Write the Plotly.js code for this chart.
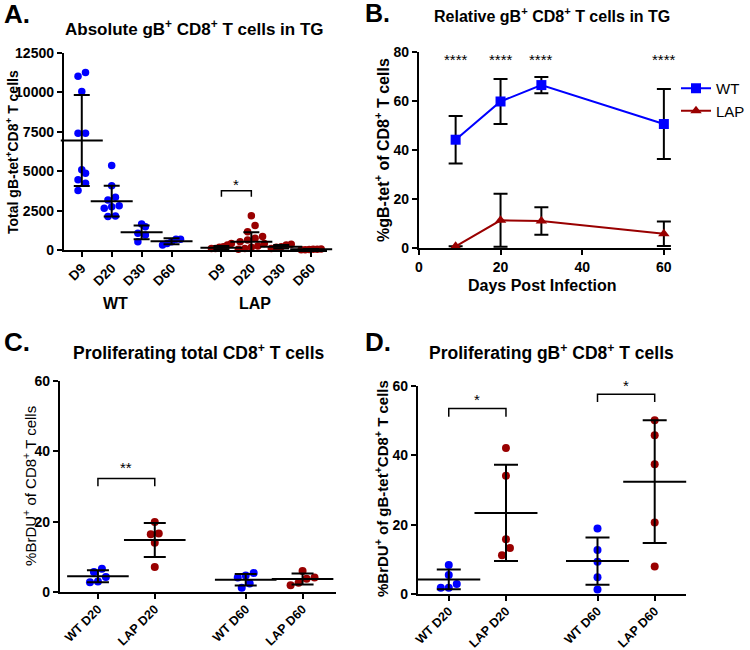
<!DOCTYPE html>
<html><head><meta charset="utf-8">
<script src="https://cdn.plot.ly/plotly-3.0.1.min.js"></script>
<style>html,body{margin:0;padding:0;background:#fff}#chart{width:750px;height:650px}</style>
</head><body><div id="chart"></div>
<script>
// ---------------- DATA ----------------
// Panel A: absolute gB+ CD8+ T cells in TG
const A_TICKS = ['D9','D20','D30','D60','D9','D20','D30','D60'];
const A_GROUPS = ['WT','LAP'];
const A_WT_D9  = [11020, 11270, 10065, 7415, 7415, 4870, 5085, 4450, 4240, 3770];
const A_WT_D20 = [5360, 4070, 3350, 3180, 2800, 2750, 2650, 2120, 2160];
const A_WT_D30 = [1650, 1480, 1060, 950, 530];
const A_WT_D60 = [680, 680, 530, 420, 320];
const A_LAP_D9  = [420, 320, 100, 210, 170, 100];
const A_LAP_D20 = [2180, 1550, 1165, 850, 740, 640, 530, 420, 250, 170, 100, 40];
const A_LAP_D30 = [360, 320, 210, 100, 170];
const A_LAP_D60 = [50, 30, 20, 60, 10, 40];
const A_WT_MEAN  = [6950, 3100, 1120, 560];
const A_WT_SD    = [2890, 980, 440, 190];
const A_LAP_MEAN = [150, 530, 210, 40];
const A_LAP_SD   = [110, 590, 110, 30];

// Panel B: relative gB+ CD8+ T cells in TG
const B_DAYS = [9, 20, 30, 60];
const B_WT_MEAN  = [44.2, 59.8, 66.5, 50.6];
const B_WT_SD    = [9.7, 9.2, 3.3, 14.3];
const B_LAP_MEAN = [0.7, 11.3, 11.0, 5.8];
const B_LAP_SD   = [0, 10.8, 5.6, 5.0];
const B_SIG = ['****', '****', '****', '****'];

// Panels C & D
const CD_TICKS = ['WT D20', 'LAP D20', 'WT D60', 'LAP D60'];
const C_WT_D20  = [4.3, 6.6, 5.7, 2.8, 3.0];
const C_LAP_D20 = [19.9, 16.4, 16.6, 14.0, 7.1];
const C_WT_D60  = [4.1, 5.4, 4.7, 2.4, 1.2];
const C_LAP_D60 = [3.8, 6.0, 4.1, 1.9, 2.6];
const C_MEAN = [4.5, 14.8, 3.5, 3.7];
const C_SD   = [1.7, 4.85, 1.65, 1.55];

const D_WT_D20  = [8.4, 5.5, 2.9, 1.8, 1.8];
const D_LAP_D20 = [42.1, 34.1, 15.8, 13.3, 11.2];
const D_WT_D60  = [18.9, 12.7, 9.3, 4.8, 1.3];
const D_LAP_D60 = [50.1, 45.8, 37.4, 20.6, 7.9];
const D_MEAN = [4.2, 23.4, 9.5, 32.4];
const D_SD   = [2.85, 13.9, 6.8, 17.7];

// ---------------- STYLE / LAYOUT ----------------
const FONT = 'Liberation Sans, Arial, Helvetica, sans-serif';
const BLUE = '#0000ff', RED = '#990000', BLACK = '#000';
const W = 750, H = 650;
const px = v => v / W, py = v => 1 - v / H;

// axis geometry (pixels)
const GEO = {
  A: {x0: 64, x1: 328, y0: 250, y1: 53, xr: [-0.6, 8.2], yr: [0, 12500]},
  B: {x0: 420, x1: 673, y0: 248, y1: 52, xr: [0, 61.8], yr: [0, 80]},
  C: {x0: 60, x1: 337, y0: 592, y1: 381, xr: [-0.67, 4.19], yr: [0, 60]},
  D: {x0: 419, x1: 688, y0: 594, y1: 386, xr: [-0.54, 4.15], yr: [0, 60]}
};
const A_POS = [0, 1, 2, 3, 4.667, 5.667, 6.667, 7.667];
const CD_POS = [0, 1, 2.6, 3.6];

function scale(g) {
  return {ux: (g.xr[1] - g.xr[0]) / (g.x1 - g.x0), uy: (g.yr[1] - g.yr[0]) / (g.y0 - g.y1)};
}
// simple column-scatter layout: points within one marker height share a row, centred
function swarm(vals, center, g, diam, maxHalf) {
  const s = scale(g);
  const idx = vals.map((v, i) => i).sort((a, b) => vals[a] - vals[b]);
  const xs = new Array(vals.length);
  const rows = []; let cur = [];
  idx.forEach(i => {
    if (cur.length && (vals[i] - vals[cur[0]]) / s.uy >= diam) { rows.push(cur); cur = []; }
    cur.push(i);
  });
  if (cur.length) rows.push(cur);
  rows.forEach(r => {
    const n = r.length;
    const step = n > 1 ? Math.min(diam, 2 * maxHalf / (n - 1)) : 0;
    r.forEach((i, k) => { xs[i] = center + (k - (n - 1) / 2) * step * s.ux; });
  });
  return xs;
}

const traces = [];
function dots(vals, center, g, color, xa, ya, diam, maxHalf) {
  traces.push({
    type: 'scatter', mode: 'markers', xaxis: xa, yaxis: ya, showlegend: false, cliponaxis: false,
    x: swarm(vals, center, g, diam, maxHalf), y: vals,
    marker: {color: color, size: diam, line: {width: 0}}, hoverinfo: 'y'
  });
}
function meanSd(pos, means, sds, xa, ya, lineW, capW) {
  traces.push({
    type: 'scatter', mode: 'markers', xaxis: xa, yaxis: ya, showlegend: false, cliponaxis: false,
    x: pos, y: means,
    marker: {symbol: 'line-ew', size: lineW, color: BLACK, line: {width: 2, color: BLACK}},
    error_y: {type: 'data', array: sds, visible: true, color: BLACK, thickness: 2, width: capW}
  });
}

// Panel A
const A_WT = [A_WT_D9, A_WT_D20, A_WT_D30, A_WT_D60];
const A_LAP = [A_LAP_D9, A_LAP_D20, A_LAP_D30, A_LAP_D60];
A_WT.forEach((v, i) => dots(v, A_POS[i], GEO.A, BLUE, 'x', 'y', 7.5, 9));
A_LAP.forEach((v, i) => dots(v, A_POS[i + 4], GEO.A, RED, 'x', 'y', 7.5, i === 1 ? 13 : 10));
meanSd(A_POS, A_WT_MEAN.concat(A_LAP_MEAN), A_WT_SD.concat(A_LAP_SD), 'x', 'y', 30, 8);

// Panel B
traces.push({
  type: 'scatter', mode: 'lines+markers', name: 'WT', xaxis: 'x2', yaxis: 'y2', cliponaxis: false,
  x: B_DAYS, y: B_WT_MEAN, line: {color: BLUE, width: 2},
  marker: {symbol: 'square', size: 10, color: BLUE},
  error_y: {type: 'data', array: B_WT_SD, color: BLACK, thickness: 2, width: 7}
});
traces.push({
  type: 'scatter', mode: 'lines+markers', name: 'LAP', xaxis: 'x2', yaxis: 'y2', cliponaxis: false,
  x: B_DAYS, y: B_LAP_MEAN, line: {color: RED, width: 2},
  marker: {symbol: 'triangle-up', size: 10, color: RED},
  error_y: {type: 'data', array: B_LAP_SD, color: BLACK, thickness: 2, width: 7}
});

// Panel C / D
const CD_COL = [BLUE, RED, BLUE, RED];
[C_WT_D20, C_LAP_D20, C_WT_D60, C_LAP_D60].forEach((v, i) => dots(v, CD_POS[i], GEO.C, CD_COL[i], 'x3', 'y3', 8, 14));
meanSd(CD_POS, C_MEAN, C_SD, 'x3', 'y3', 44, 11);
[D_WT_D20, D_LAP_D20, D_WT_D60, D_LAP_D60].forEach((v, i) => dots(v, CD_POS[i], GEO.D, CD_COL[i], 'x4', 'y4', 8, 14));
meanSd(CD_POS, D_MEAN, D_SD, 'x4', 'y4', 45, 12);

// ---------------- AXES ----------------
function ax(g, isX, extra) {
  return Object.assign({
    domain: isX ? [px(g.x0), px(g.x1)] : [py(g.y0), py(g.y1)],
    range: isX ? g.xr : g.yr,
    showline: true, linecolor: BLACK, linewidth: 2, mirror: false,
    ticks: 'outside', ticklen: 5, tickwidth: 2, tickcolor: BLACK,
    showgrid: false, zeroline: false, fixedrange: true,
    tickfont: {family: FONT, size: 14, color: BLACK, weight: 700}
  }, extra);
}
const catTicks = (pos, txt, size) => ({tickmode: 'array', tickvals: pos, ticktext: txt, tickangle: -45,
  ticklabelstandoff: -2, tickfont: {family: FONT, size: size, color: BLACK, weight: 700}});

const layout = {
  width: W, height: H, margin: {l: 0, r: 0, t: 0, b: 0},
  paper_bgcolor: '#fff', plot_bgcolor: '#fff',
  font: {family: FONT, color: BLACK},
  xaxis: ax(GEO.A, true, Object.assign({anchor: 'y'}, catTicks(A_POS, A_TICKS, 13.5))),
  yaxis: ax(GEO.A, false, {anchor: 'x', dtick: 2500, tickformat: 'd'}),
  xaxis2: ax(GEO.B, true, {anchor: 'y2', tickvals: [0, 20, 40, 60]}),
  yaxis2: ax(GEO.B, false, {anchor: 'x2', dtick: 20}),
  xaxis3: ax(GEO.C, true, Object.assign({anchor: 'y3'}, catTicks(CD_POS, CD_TICKS, 12.5))),
  yaxis3: ax(GEO.C, false, {anchor: 'x3', dtick: 20}),
  xaxis4: ax(GEO.D, true, Object.assign({anchor: 'y4'}, catTicks(CD_POS, CD_TICKS, 12.5))),
  yaxis4: ax(GEO.D, false, {anchor: 'x4', dtick: 20}),
  showlegend: true,
  legend: {x: px(678), y: py(72), xanchor: 'left', yanchor: 'top', bgcolor: 'rgba(0,0,0,0)',
    font: {family: FONT, size: 15, color: BLACK}, itemwidth: 30, tracegroupgap: 0},
  shapes: [], annotations: []
};

function txt(x, y, text, size, weight, extra) {
  layout.annotations.push(Object.assign({xref: 'paper', yref: 'paper', x: px(x), y: py(y), text: text,
    showarrow: false, xanchor: 'center', yanchor: 'middle',
    font: {family: FONT, size: size, color: BLACK, weight: weight}}, extra || {}));
}
// panel letters
txt(17, 14, 'A.', 26, 700); txt(379, 13, 'B.', 25, 700);
txt(17, 342, 'C.', 26, 700); txt(379, 342, 'D.', 26, 700);
// titles
txt(195, 28, 'Absolute gB<sup>+</sup> CD8<sup>+</sup> T cells in TG', 17, 700);
txt(553, 15, 'Relative gB<sup>+</sup> CD8<sup>+</sup> T cells in TG', 16, 700);
txt(200, 352, 'Proliferating total CD8<sup>+</sup> T cells', 17.5, 700);
txt(553, 352, 'Proliferating gB<sup>+</sup> CD8<sup>+</sup> T cells', 17.5, 700);
// axis titles
txt(12, 152, 'Total gB-tet<sup>+</sup>CD8<sup>+</sup> T cells', 14, 700, {textangle: -90});
txt(383, 150, '%gB-tet<sup>+</sup> of CD8<sup>+</sup> T cells', 16, 700, {textangle: -90});
txt(29, 486, '%BrDU<sup>+</sup> of CD8<sup>+</sup> T cells', 15, 400, {textangle: -90});
txt(382, 488, '%BrDU<sup>+</sup> of gB-tet<sup>+</sup>CD8<sup>+</sup> T cells', 15, 700, {textangle: -90});
txt(543, 286, 'Days Post Infection', 16, 700);
// group labels in A
txt(116, 304, A_GROUPS[0], 16, 700);
txt(256, 304, A_GROUPS[1], 16, 700);

// significance stars in B
B_DAYS.forEach((d, i) => layout.annotations.push({xref: 'x2', yref: 'y2', x: d, y: 77, text: B_SIG[i],
  showarrow: false, font: {family: FONT, size: 15, color: BLACK}}));

// brackets (star placed a few px above the bracket's top line)
function bracket(xa, ya, x1, x2, top, leg, shift, label) {
  layout.shapes.push({type: 'path', xref: xa, yref: ya,
    path: `M${x1},${leg} L${x1},${top} L${x2},${top} L${x2},${leg}`,
    line: {color: BLACK, width: 1.5}});
  layout.annotations.push({xref: xa, yref: ya, x: (x1 + x2) / 2, y: top, yshift: shift, text: label,
    showarrow: false, font: {family: FONT, size: 15, color: BLACK}});
}
bracket('x', 'y', A_POS[4], A_POS[5], 3760, 3380, 6, '*');
bracket('x3', 'y3', CD_POS[0], CD_POS[1], 32.3, 30.1, 11, '**');
bracket('x4', 'y4', CD_POS[0], CD_POS[1], 53.5, 51.1, 9, '*');
bracket('x4', 'y4', CD_POS[2], CD_POS[3], 57.6, 55.4, 9, '*');

Plotly.newPlot('chart', traces, layout, {displayModeBar: false, staticPlot: true});
</script></body></html>
